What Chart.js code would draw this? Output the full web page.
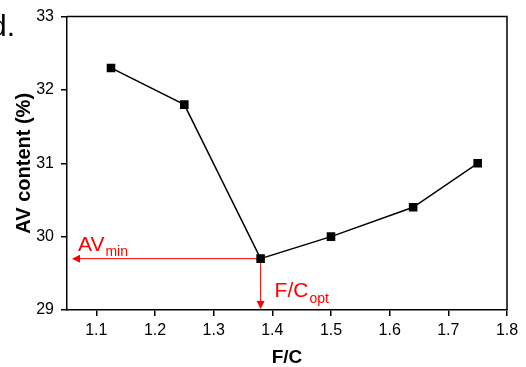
<!DOCTYPE html>
<html>
<head>
<meta charset="utf-8">
<script src="https://cdn.jsdelivr.net/npm/chart.js@4.4.1/dist/chart.umd.min.js"></script>
<style>
  html, body { margin: 0; padding: 0; background: #fff; }
  #wrap { width: 526px; height: 367px; }
</style>
</head>
<body>
<div id="wrap"><canvas id="myChart" width="526" height="367"></canvas></div>
<script>
// data
const ratioFC = [1.125, 1.25, 1.38, 1.5, 1.64, 1.75];
const avContent = [32.3, 31.8, 29.7, 30.0, 30.4, 31.0];
const xTicks = [1.1, 1.2, 1.3, 1.4, 1.5, 1.6, 1.7, 1.8];
const yTicks = [29, 30, 31, 32, 33];
const optFC = 1.38;
const minAV = 29.7;

const red = '#ff0000';
const font = "'Liberation Sans', Arial, sans-serif";

// frame on top and right + the red arrows and labels
const extras = {
  id: 'extras',
  beforeDatasetsDraw(chart) {
    const { ctx, chartArea, scales: { x, y } } = chart;
    const px = x.getPixelForValue(optFC);
    const py = y.getPixelForValue(minAV);
    ctx.save();
    ctx.strokeStyle = red;
    ctx.fillStyle = red;
    ctx.lineWidth = 1;

    // horizontal arrow to the left axis
    const tipX = chartArea.left + 5;
    ctx.beginPath();
    ctx.moveTo(px, py);
    ctx.lineTo(tipX + 6, py);
    ctx.stroke();
    ctx.beginPath();
    ctx.moveTo(tipX, py);
    ctx.lineTo(tipX + 8, py - 4);
    ctx.lineTo(tipX + 8, py + 4);
    ctx.closePath();
    ctx.fill();

    // vertical arrow down to the x axis
    const tipY = chartArea.bottom - 1;
    ctx.beginPath();
    ctx.moveTo(px, py);
    ctx.lineTo(px, tipY - 6);
    ctx.stroke();
    ctx.beginPath();
    ctx.moveTo(px, tipY);
    ctx.lineTo(px - 4, tipY - 8);
    ctx.lineTo(px + 4, tipY - 8);
    ctx.closePath();
    ctx.fill();

    // labels with subscripts
    ctx.textBaseline = 'alphabetic';
    ctx.textAlign = 'left';
    ctx.font = '21px ' + font;
    ctx.fillText('AV', 78, 251);
    let w = ctx.measureText('AV').width;
    ctx.font = '14px ' + font;
    ctx.fillText('min', 78 + w + 1, 256);

    ctx.font = '21px ' + font;
    ctx.fillText('F/C', px + 14, 297);
    w = ctx.measureText('F/C').width;
    ctx.font = '14px ' + font;
    ctx.fillText('opt', px + 14 + w + 1, 303);
    ctx.restore();
  },
  afterDraw(chart) {
    const { ctx, chartArea } = chart;
    ctx.save();
    ctx.strokeStyle = '#000';
    ctx.lineWidth = 1.5;
    ctx.beginPath();
    ctx.moveTo(chartArea.left, chartArea.top);
    ctx.lineTo(chartArea.right, chartArea.top);
    ctx.lineTo(chartArea.right, chartArea.bottom);
    ctx.stroke();

    // panel letter, cut at the left edge like the original
    ctx.fillStyle = '#000';
    ctx.font = '30px ' + font;
    ctx.textAlign = 'right';
    ctx.textBaseline = 'alphabetic';
    ctx.fillText('d.', 15, 36);
    ctx.restore();
  }
};

const ctx = document.getElementById('myChart');

new Chart(ctx, {
  type: 'line',
  data: {
    datasets: [{
      data: ratioFC.map((v, i) => ({ x: v, y: avContent[i] })),
      borderColor: '#000',
      backgroundColor: '#000',
      borderWidth: 1.5,
      pointStyle: 'rect',
      pointRadius: 5,
      pointHoverRadius: 5,
      tension: 0
    }]
  },
  options: {
    responsive: false,
    animation: false,
    events: [],
    layout: { padding: { left: 0, top: 16, right: 19, bottom: 0 } },
    plugins: {
      legend: { display: false },
      tooltip: { enabled: false }
    },
    scales: {
      x: {
        type: 'linear',
        min: 1.05,
        max: 1.8,
        afterBuildTicks: (s) => { s.ticks = xTicks.map(v => ({ value: v })); },
        afterFit: (s) => { s.height = 57; },
        border: { color: '#000', width: 1.5 },
        grid: { drawOnChartArea: false, color: '#000', lineWidth: 1.5, tickLength: 6 },
        ticks: {
          color: '#000',
          padding: 5,
          font: { family: font, size: 16 },
          callback: (v) => Number(v).toFixed(1)
        },
        title: {
          display: true,
          text: 'F/C',
          color: '#000',
          font: { family: font, size: 19, weight: 'bold', lineHeight: 1 },
          padding: { top: 0, bottom: 0 }
        }
      },
      y: {
        min: 29,
        max: 33,
        afterBuildTicks: (s) => { s.ticks = yTicks.map(v => ({ value: v })); },
        afterFit: (s) => { s.width = 67; },
        border: { color: '#000', width: 1.5 },
        grid: { drawOnChartArea: false, color: '#000', lineWidth: 1.5, tickLength: 6 },
        ticks: {
          color: '#000',
          padding: 7,
          font: { family: font, size: 16 },
          callback: (v) => String(v)
        },
        title: {
          display: true,
          text: 'AV content (%)',
          color: '#000',
          font: { family: font, size: 20, weight: 'bold', lineHeight: 1.2 },
          padding: { top: 12, bottom: 0 }
        }
      }
    }
  },
  plugins: [extras]
});
</script>
</body>
</html>
